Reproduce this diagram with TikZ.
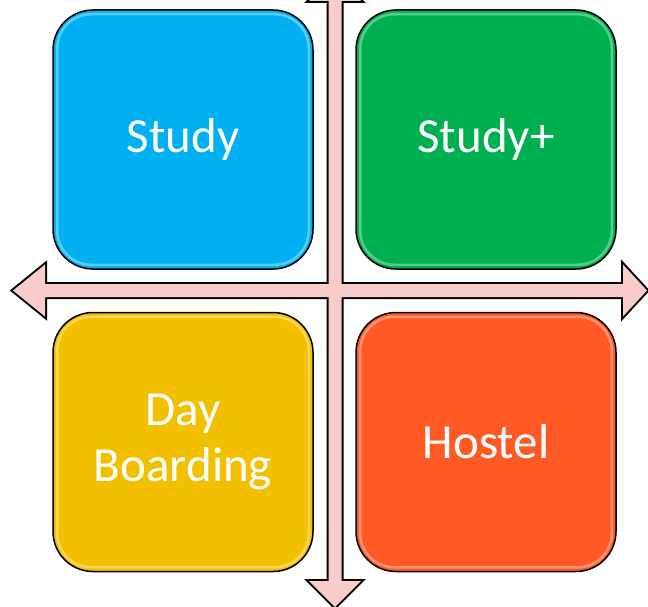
\documentclass[tikz,border=0pt]{standalone}
\usepackage{fontspec}
\setmainfont{Carlito}
\usetikzlibrary{calc}
\definecolor{tileBlue}{HTML}{00B0F0}
\definecolor{tileGreen}{HTML}{00B050}
\definecolor{tileYellow}{HTML}{F2C000}
\definecolor{tileOrange}{HTML}{FF5A26}
\definecolor{axisPink}{HTML}{F8CCCA}
\begin{document}
\begin{tikzpicture}[x=1pt, y=-1pt,
tile/.style={rectangle, rounded corners=40pt, draw=black, line width=1.5pt, minimum width=260pt, minimum height=259pt, inner sep=0pt, text=white, align=center, font=\fontsize{49}{56}\selectfont},
gloss/.style={draw=white, opacity=0.35, line width=2.5pt, rounded corners=34pt},
axisline/.style={draw=black, line width=4pt, line join=miter},
axisfill/.style={fill=axisPink},
]
\useasboundingbox (0,0) rectangle (648,607);
\clip (0,0) rectangle (648,607);
% the two axes, outline first and fill on top so they merge in the middle
\draw[axisline] (13,290.5) -- (45,264.5) -- (45,284) -- (623,284) -- (623,264.5) -- (647,290.5) -- (623,316.5) -- (623,297) -- (45,297) -- (45,316.5) -- cycle;
\draw[axisline] (335,-25) -- (361,1) -- (341.5,1) -- (341.5,581) -- (361,581) -- (335,607) -- (309,581) -- (328.5,581) -- (328.5,1) -- (309,1) -- cycle;
\fill[axisfill] (13,290.5) -- (45,264.5) -- (45,284) -- (623,284) -- (623,264.5) -- (647,290.5) -- (623,316.5) -- (623,297) -- (45,297) -- (45,316.5) -- cycle;
\fill[axisfill] (335,-25) -- (361,1) -- (341.5,1) -- (341.5,581) -- (361,581) -- (335,607) -- (309,581) -- (328.5,581) -- (328.5,1) -- (309,1) -- cycle;
% quadrants
\node[tile, fill=tileBlue] (study) at (183,139.5) {Study};
\node[tile, fill=tileGreen] (studyplus) at (486,139.5) {Study+};
\node[tile, fill=tileYellow] (dayboarding) at (183,442) {Day\\Boarding};
\node[tile, fill=tileOrange] (hostel) at (486,442) {Hostel};
\foreach \n in {study, studyplus, dayboarding, hostel}
	\draw[gloss] ($(\n.north west)+(5,5)$) rectangle ($(\n.south east)+(-5,-5)$);
\end{tikzpicture}
\end{document}
